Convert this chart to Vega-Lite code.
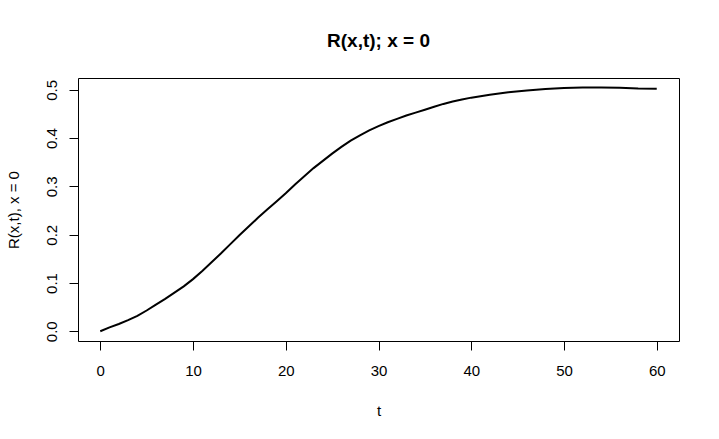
{
  "$schema": "https://vega.github.io/schema/vega-lite/v6.json",
  "description": "R(x,t) at x = 0 against t, drawn like an R base plot.",
  "width": 601,
  "height": 263,
  "autosize": {"type": "none"},
  "padding": {"left": 78, "top": 78, "right": 40, "bottom": 98},
  "background": "white",
  "config": {
    "font": "Liberation Sans",
    "view": {"stroke": "black", "strokeWidth": 1},
    "axis": {
      "grid": false,
      "domain": false,
      "tickColor": "black",
      "tickSize": 9,
      "labelColor": "black",
      "labelFontSize": 15,
      "titleColor": "black",
      "titleFontSize": 15,
      "titleFontWeight": "normal",
      "labelFont": "Liberation Sans",
      "titleFont": "Liberation Sans"
    }
  },
  "title": {
    "text": "R(x,t); x = 0",
    "font": "Liberation Sans",
    "fontSize": 19,
    "fontWeight": "bold",
    "color": "black",
    "anchor": "middle",
    "baseline": "alphabetic",
    "offset": 12
  },
  "data": {
    "values": [
      {"t": 0, "R": 0.000},
      {"t": 1, "R": 0.008},
      {"t": 2, "R": 0.015},
      {"t": 3, "R": 0.023},
      {"t": 4, "R": 0.032},
      {"t": 5, "R": 0.043},
      {"t": 6, "R": 0.055},
      {"t": 7, "R": 0.067},
      {"t": 8, "R": 0.080},
      {"t": 9, "R": 0.093},
      {"t": 10, "R": 0.108},
      {"t": 11, "R": 0.125},
      {"t": 12, "R": 0.143},
      {"t": 13, "R": 0.161},
      {"t": 14, "R": 0.180},
      {"t": 15, "R": 0.199},
      {"t": 16, "R": 0.217},
      {"t": 17, "R": 0.235},
      {"t": 18, "R": 0.252},
      {"t": 19, "R": 0.269},
      {"t": 20, "R": 0.286},
      {"t": 21, "R": 0.304},
      {"t": 22, "R": 0.321},
      {"t": 23, "R": 0.338},
      {"t": 24, "R": 0.353},
      {"t": 25, "R": 0.368},
      {"t": 26, "R": 0.382},
      {"t": 27, "R": 0.395},
      {"t": 28, "R": 0.406},
      {"t": 29, "R": 0.416},
      {"t": 30, "R": 0.425},
      {"t": 31, "R": 0.433},
      {"t": 32, "R": 0.440},
      {"t": 33, "R": 0.447},
      {"t": 34, "R": 0.453},
      {"t": 35, "R": 0.459},
      {"t": 36, "R": 0.465},
      {"t": 37, "R": 0.471},
      {"t": 38, "R": 0.476},
      {"t": 39, "R": 0.480},
      {"t": 40, "R": 0.484},
      {"t": 42, "R": 0.490},
      {"t": 44, "R": 0.495},
      {"t": 46, "R": 0.499},
      {"t": 48, "R": 0.502},
      {"t": 50, "R": 0.504},
      {"t": 52, "R": 0.505},
      {"t": 54, "R": 0.505},
      {"t": 56, "R": 0.5045},
      {"t": 58, "R": 0.503},
      {"t": 60, "R": 0.5025}
    ]
  },
  "mark": {"type": "line", "color": "black", "strokeWidth": 2, "clip": true},
  "encoding": {
    "x": {
      "field": "t",
      "type": "quantitative",
      "scale": {"domain": [-2.4, 62.4], "nice": false, "zero": false},
      "axis": {
        "title": "t",
        "values": [0, 10, 20, 30, 40, 50, 60],
        "labelPadding": 13,
        "titleBaseline": "alphabetic",
        "titleX": 300.5,
        "titleY": 74
      }
    },
    "y": {
      "field": "R",
      "type": "quantitative",
      "scale": {"domain": [-0.0202, 0.5247], "nice": false, "zero": false},
      "axis": {
        "title": "R(x,t), x = 0",
        "values": [0, 0.1, 0.2, 0.3, 0.4, 0.5],
        "format": ".1f",
        "labelAngle": -90,
        "labelAlign": "center",
        "labelBaseline": "bottom",
        "labelPadding": 10,
        "titleAngle": -90,
        "titleBaseline": "alphabetic",
        "titleX": -60,
        "titleY": 131.5
      }
    }
  }
}
